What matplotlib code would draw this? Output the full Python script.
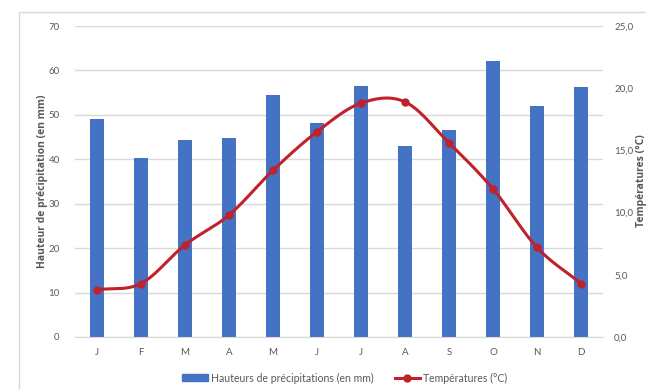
import numpy as np
import matplotlib.pyplot as plt
from matplotlib.patches import Rectangle
from matplotlib.lines import Line2D
from matplotlib.patches import Patch

months = ["J", "F", "M", "A", "M", "J", "J", "A", "S", "O", "N", "D"]
precip = [49.1, 40.2, 44.4, 44.9, 54.5, 48.2, 56.4, 42.9, 46.7, 62.1, 52.0, 56.2]
temps = [3.8, 4.3, 7.4, 9.8, 13.4, 16.5, 18.8, 18.9, 15.6, 11.9, 7.2, 4.3]

bar_color = "#4472C4"
line_color = "#C0222A"
text_color = "#595959"

plt.rcParams['font.family'] = ['Lato', 'DejaVu Sans']


def smooth(x, y, n=30):
    # Catmull-Rom style curve through the points, like a spreadsheet "smoothed line"
    x = np.asarray(x, float)
    y = np.asarray(y, float)
    px = np.concatenate([[2 * x[0] - x[1]], x, [2 * x[-1] - x[-2]]])
    py = np.concatenate([[2 * y[0] - y[1]], y, [2 * y[-1] - y[-2]]])
    xs, ys = [], []
    t = np.linspace(0, 1, n)
    for i in range(1, len(px) - 2):
        p0, p1, p2, p3 = (np.array([px[j], py[j]]) for j in range(i - 1, i + 3))
        m1 = (p2 - p0) / 2
        m2 = (p3 - p1) / 2
        h00 = 2 * t**3 - 3 * t**2 + 1
        h10 = t**3 - 2 * t**2 + t
        h01 = -2 * t**3 + 3 * t**2
        h11 = t**3 - t**2
        pts = np.outer(h00, p1) + np.outer(h10, m1) + np.outer(h01, p2) + np.outer(h11, m2)
        xs.extend(pts[:, 0])
        ys.extend(pts[:, 1])
    return np.array(xs), np.array(ys)


fig = plt.figure(figsize=(6.46, 3.90), dpi=100)
fig.patches.append(Rectangle((19 / 646, -0.1), 1.0, 1 - 12 / 390 + 0.1,
                             transform=fig.transFigure, fill=False,
                             edgecolor="#D9D9D9", lw=1))

ax = fig.add_axes([75 / 646, 53 / 390, 528 / 646, 311 / 390])
x = np.arange(len(months))
ax.bar(x, precip, width=0.32, color=bar_color, zorder=2)
ax.set_xlim(-0.5, 11.5)
ax.set_ylim(0, 70)
ax.set_yticks(range(0, 71, 10))
ax.yaxis.grid(True, color="#D9D9D9", lw=1, zorder=0)
ax.set_axisbelow(True)
ax.set_xticks(x)
ax.set_xticklabels(months)
for s in ["top", "right", "left"]:
    ax.spines[s].set_visible(False)
ax.spines["bottom"].set_color("#D9D9D9")
ax.tick_params(axis="both", length=0, colors=text_color, labelsize=7)
ax.tick_params(axis="x", pad=8)
ax.tick_params(axis="y", pad=11)

ax2 = ax.twinx()
ax2.set_ylim(0, 25)
ax2.set_yticks(range(0, 26, 5))
ax2.set_yticklabels([f"{v},0" for v in range(0, 26, 5)])
for s in ax2.spines.values():
    s.set_visible(False)
ax2.tick_params(axis="y", length=0, colors=text_color, labelsize=7, pad=8)

# axis titles placed by hand, the right one squeezed against the edge
mid = 1 - 181 / 390
title_font = dict(rotation=90, ha="center", va="center", fontsize=7.5,
                  fontweight="bold", color=text_color,
                  family=["Open Sans", "DejaVu Sans"])
fig.text(43 / 646, mid, "Hauteur de précipitation (en mm)", **title_font)
fig.text(641 / 646, mid, "Températures (°C)", **title_font)

sx, sy = smooth(x, temps)
ax2.plot(sx, sy, color=line_color, lw=2.2, zorder=3)
ax2.plot(x, temps, "o", color=line_color, ms=5, zorder=4)

handles = [Patch(color=bar_color),
           Line2D([0], [0], color=line_color, lw=2.2, marker="o", ms=5)]
fig.legend(handles, ["Hauteurs de précipitations (en mm)", "Températures (°C)"],
           loc="center", bbox_to_anchor=(345 / 646, 1 - 378 / 390), ncol=2,
           frameon=False, fontsize=7.6, labelcolor=text_color,
           handlelength=2.4, handleheight=0.6, columnspacing=2.0, handletextpad=0.3)

fig.savefig("out.png", dpi=100)
